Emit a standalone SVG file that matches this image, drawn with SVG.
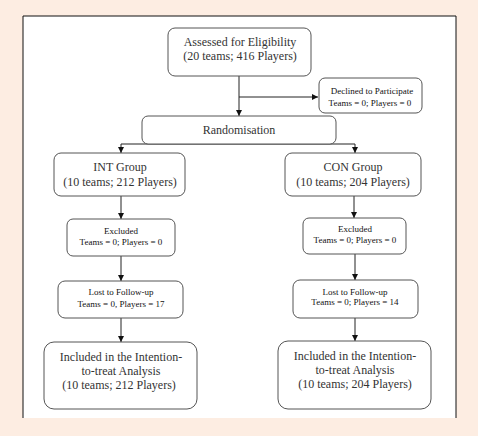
<svg xmlns="http://www.w3.org/2000/svg" width="478" height="436" viewBox="0 0 478 436">
<defs>
<style>
.box{fill:#fff;stroke:#555;stroke-width:1}
.t{font-family:"Liberation Serif",serif;font-size:12px;fill:#333;text-anchor:middle}
.s{font-family:"Liberation Serif",serif;font-size:9px;fill:#111;text-anchor:middle}
.c{stroke:#222;stroke-width:1;fill:none}
</style>
<marker id="ah" viewBox="0 0 8 8" refX="8" refY="4" markerWidth="6" markerHeight="6" orient="auto" markerUnits="userSpaceOnUse">
<path d="M0,0 L8,4 L0,8 Z" fill="#111"/>
</marker>
</defs>
<rect x="0" y="0" width="478" height="436" fill="#fdede2"/>
<rect x="23" y="16" width="433" height="402" fill="#fff"/>
<path d="M23,418 V16 H456 V418" fill="none" stroke="#111" stroke-width="1"/>

<g id="connectors">
<line class="c" x1="239" y1="76" x2="239" y2="116" marker-end="url(#ah)"/>
<line class="c" x1="239" y1="97" x2="318" y2="97" marker-end="url(#ah)"/>
<line class="c" x1="121" y1="144" x2="355" y2="144"/>
<line class="c" x1="121" y1="144" x2="121" y2="153" marker-end="url(#ah)"/>
<line class="c" x1="355" y1="144" x2="355" y2="153" marker-end="url(#ah)"/>
<line class="c" x1="121" y1="196" x2="121" y2="219" marker-end="url(#ah)"/>
<line class="c" x1="354" y1="196" x2="354" y2="218" marker-end="url(#ah)"/>
<line class="c" x1="121" y1="256" x2="121" y2="281" marker-end="url(#ah)"/>
<line class="c" x1="355" y1="254" x2="355" y2="280" marker-end="url(#ah)"/>
<line class="c" x1="121" y1="318" x2="121" y2="342" marker-end="url(#ah)"/>
<line class="c" x1="355" y1="318" x2="355" y2="341" marker-end="url(#ah)"/>
</g>

<g id="assessed">
<rect class="box" x="168" y="28" width="143" height="48" rx="7"/>
<text class="t" x="240" y="46">Assessed for Eligibility</text>
<text class="t" x="240" y="60">(20 teams; 416 Players)</text>
</g>
<g id="declined">
<rect class="box" x="319" y="78" width="103" height="35" rx="6"/>
<text class="s" x="372" y="94">Declined to Participate</text>
<text class="s" x="370" y="106">Teams = 0; Players = 0</text>
</g>
<g id="randomisation">
<rect class="box" x="142" y="116" width="194" height="28" rx="6"/>
<text class="t" x="239" y="134">Randomisation</text>
</g>
<g id="int-group">
<rect class="box" x="54" y="153" width="131" height="43" rx="7"/>
<text class="t" x="120" y="171">INT Group</text>
<text class="t" x="120" y="186">(10 teams; 212 Players)</text>
</g>
<g id="con-group">
<rect class="box" x="285" y="153" width="136" height="43" rx="7"/>
<text class="t" x="353" y="171">CON Group</text>
<text class="t" x="353" y="186">(10 teams; 204 Players)</text>
</g>
<g id="excluded-int">
<rect class="box" x="67" y="219" width="108" height="37" rx="6"/>
<text class="s" x="121" y="234">Excluded</text>
<text class="s" x="121" y="245">Teams = 0; Players = 0</text>
</g>
<g id="excluded-con">
<rect class="box" x="303" y="218" width="103" height="36" rx="6"/>
<text class="s" x="355" y="232">Excluded</text>
<text class="s" x="355" y="243">Teams = 0; Players = 0</text>
</g>
<g id="lost-int">
<rect class="box" x="58" y="281" width="125" height="37" rx="7"/>
<text class="s" x="121" y="295">Lost to Follow-up</text>
<text class="s" x="121" y="307">Teams = 0, Players = 17</text>
</g>
<g id="lost-con">
<rect class="box" x="293" y="280" width="125" height="38" rx="7"/>
<text class="s" x="355" y="295">Lost to Follow-up</text>
<text class="s" x="355" y="305">Teams = 0; Players = 14</text>
</g>
<g id="included-int">
<rect class="box" x="44" y="342" width="153" height="67" rx="10"/>
<text class="t" x="121" y="361">Included in the Intention-</text>
<text class="t" x="121" y="375">to-treat Analysis</text>
<text class="t" x="119" y="389">(10 teams; 212 Players)</text>
</g>
<g id="included-con">
<rect class="box" x="278" y="341" width="153" height="68" rx="10"/>
<text class="t" x="355" y="360">Included in the Intention-</text>
<text class="t" x="355" y="374">to-treat Analysis</text>
<text class="t" x="355" y="388">(10 teams; 204 Players)</text>
</g>
</svg>
